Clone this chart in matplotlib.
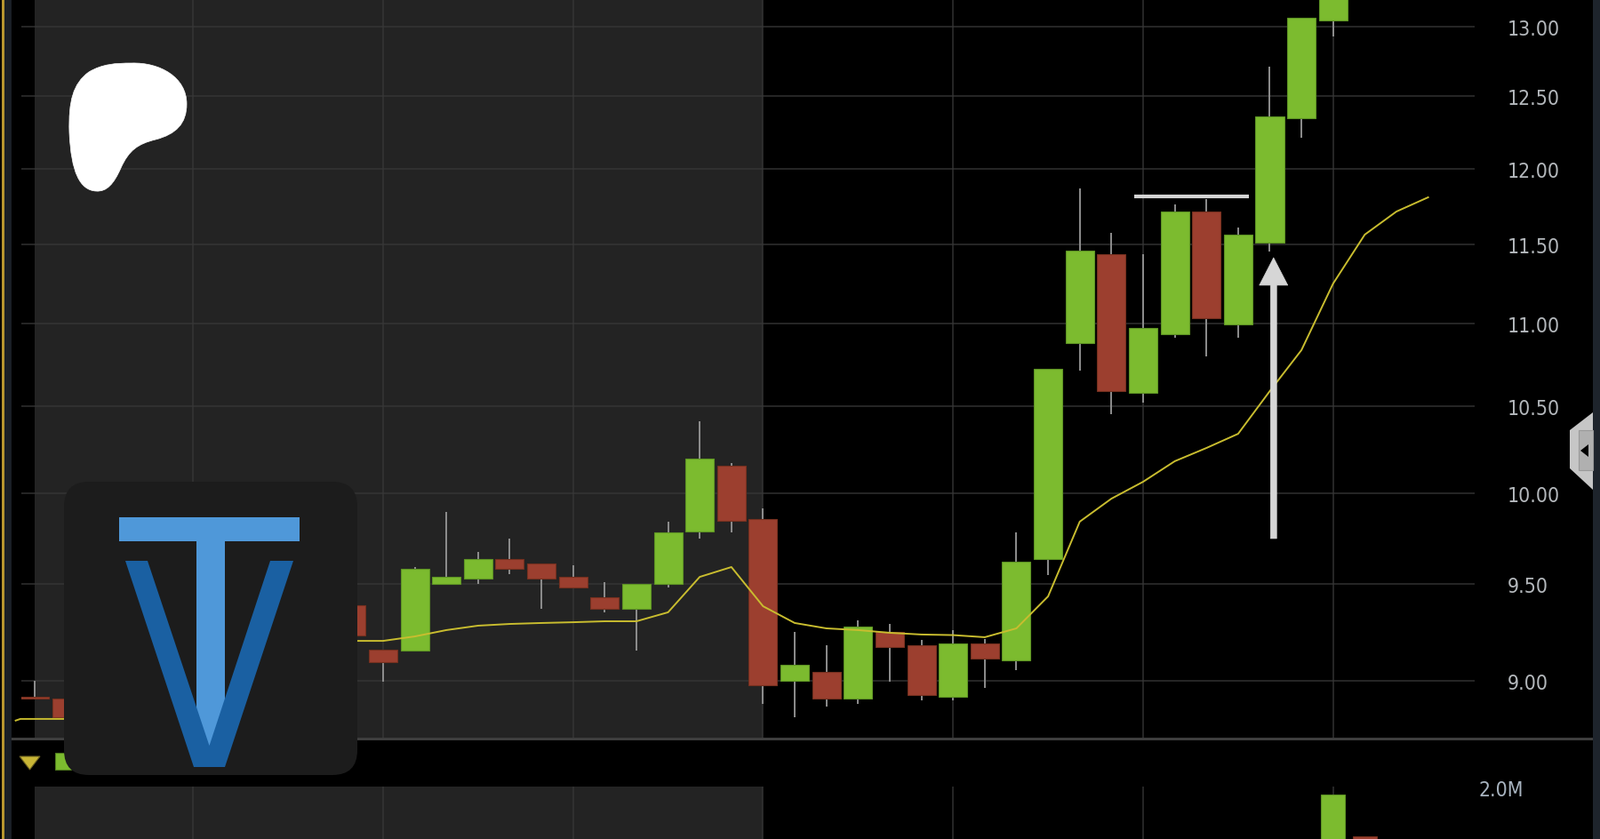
import numpy as np
import matplotlib.pyplot as plt
from matplotlib.patches import Rectangle, Polygon, FancyBboxPatch, PathPatch, FancyArrowPatch
from matplotlib.path import Path
from matplotlib.ticker import NullLocator

# candle index (bars hidden under the logo are left out)
idx = [0, 1, 10, 11, 12, 13, 14, 15, 16, 17, 18, 19, 20, 21, 22, 23, 24, 25, 26, 27,
       28, 29, 30, 31, 32, 33, 34, 35, 36, 37, 38, 39, 40, 41]
opens = [8.917, 8.908, 9.388, 9.157, 9.152, 9.501, 9.530, 9.635, 9.611, 9.539, 9.430,
         9.369, 9.501, 9.786, 10.154, 9.854, 8.998, 9.043, 8.908, 9.248, 9.179, 8.917,
         9.189, 9.102, 9.635, 10.879, 11.436, 10.579, 10.933, 11.714, 10.994, 11.511,
         12.345, 13.042]
closes = [8.908, 8.815, 9.230, 9.093, 9.582, 9.539, 9.635, 9.582, 9.530, 9.482, 9.369,
          9.501, 9.781, 10.195, 9.844, 8.975, 9.079, 8.908, 9.276, 9.170, 8.926, 9.189,
          9.111, 9.621, 10.723, 11.459, 10.589, 10.972, 11.714, 11.032, 11.563, 12.357,
          13.062, 13.350]
highs = [8.998, 8.908, 9.388, 9.157, 9.592, 9.894, 9.674, 9.747, 9.611, 9.602, 9.511,
         9.501, 9.840, 10.411, 10.169, 9.914, 9.248, 9.179, 9.309, 9.290, 9.207, 9.258,
         9.212, 9.781, 10.723, 11.867, 11.574, 11.436, 11.761, 11.796, 11.609, 12.708,
         13.062, 13.350]
lows = [8.908, 8.815, 9.230, 8.993, 9.152, 9.501, 9.501, 9.554, 9.369, 9.482, 9.351,
        9.152, 9.482, 9.747, 9.781, 8.882, 8.815, 8.868, 8.882, 8.993, 8.899, 8.899,
        8.962, 9.052, 9.549, 10.712, 10.453, 10.521, 10.912, 10.798, 10.912, 11.454,
        12.210, 12.926]

# moving average line
ma_x = [-0.6, -0.45, 0, 1, 10, 11, 12, 13, 14, 15, 16, 17, 18, 19, 20, 21, 22, 23, 24,
        25, 26, 27, 28, 29, 30, 31, 32, 33, 34, 35, 36, 37, 38, 39, 40, 41, 42, 43, 44]
ma_y = [8.799, 8.807, 8.807, 8.807, 9.202, 9.202, 9.225, 9.258, 9.281, 9.290, 9.295,
        9.299, 9.304, 9.304, 9.351, 9.539, 9.592, 9.383, 9.295, 9.267, 9.258, 9.244,
        9.235, 9.232, 9.221, 9.267, 9.435, 9.840, 9.968, 10.063, 10.180, 10.256, 10.338,
        10.589, 10.836, 11.249, 11.563, 11.714, 11.808]

# volume (only the top of the last two bars shows)
vol_idx = [41, 42]
vol_vals = [1.92e6, 1.43e6]
vol_dir = ['up', 'down']

price_ticks = [9.0, 9.5, 10.0, 10.5, 11.0, 11.5, 12.0, 12.5, 13.0]
price_labels = ['9.00', '9.50', '10.00', '10.50', '11.00', '11.50', '12.00', '12.50', '13.00']
grid_x = [5, 11, 17, 23, 29, 35, 41]
session = (0, 23)
resist = (34.72, 38.34, 11.814)
arrow = (39.12, 9.747, 11.414)

UP, UP_E = '#7cbb2f', '#5e9424'
DN, DN_E = '#9c3f2f', '#76301f'
SHADE = '#232323'
GRID = '#383838'
TXT = '#b4b8bc'

W, H = 1800, 945
fig = plt.figure(figsize=(W / 100, H / 100), dpi=100, facecolor='black')


def frect(x0, y0, x1, y1):
    return [x0 / W, 1 - y1 / H, (x1 - x0) / W, (y1 - y0) / H]


ax = fig.add_axes(frect(24, 0, 1659, 830.5))
axv = fig.add_axes(frect(24, 886, 1659, 945), sharex=ax)

for a in (ax, axv):
    a.set_facecolor('black')
    for s in a.spines.values():
        s.set_visible(False)
    a.axvspan(*session, color=SHADE, lw=0, zorder=0.5)
    for gx in grid_x:
        a.axvline(gx, color=GRID, alpha=0.8, lw=1.2, zorder=1)
    a.tick_params(axis='x', bottom=False, labelbottom=False)

ax.set_xlim(-0.421, 45.47)
ax.set_yscale('log')
ax.set_ylim(8.7168, 13.1998)
for t in price_ticks:
    ax.axhline(t, color=GRID, alpha=0.8, lw=1.2, zorder=1)
ax.set_yticks(price_ticks, labels=price_labels)
ax.yaxis.set_minor_locator(NullLocator())
ax.yaxis.tick_right()
ax.tick_params(axis='y', length=0, pad=26.6, labelsize=16.5, labelcolor=TXT)

# candles
o = np.array(opens)
c = np.array(closes)
up = c >= o
ax.vlines(idx, lows, highs, color='#8e8e8e', lw=1.4, zorder=2)
ax.bar(idx, np.abs(c - o), bottom=np.minimum(o, c), width=0.9,
       color=np.where(up, UP, DN), edgecolor=np.where(up, UP_E, DN_E), lw=0.8, zorder=3)

ax.plot(ma_x, ma_y, color='#c9bd2f', lw=1.4, zorder=4, clip_on=False)

ax.plot(resist[:2], [resist[2]] * 2, color='#d4d4d4', lw=3, solid_capstyle='butt', zorder=5)
ax.add_patch(FancyArrowPatch((arrow[0], arrow[1]), (arrow[0], arrow[2]),
                             arrowstyle='simple,head_length=2.23,head_width=2.3,tail_width=0.5',
                             mutation_scale=10, fc='#d6d6d6', ec='#d6d6d6', lw=0.5,
                             shrinkA=0, shrinkB=0, zorder=5))

# volume
axv.set_ylim(1.40e6, 2.0156e6)
axv.bar(vol_idx, vol_vals, width=0.76,
        color=[UP if d == 'up' else DN for d in vol_dir],
        edgecolor=[UP_E if d == 'up' else DN_E for d in vol_dir], lw=0.8, zorder=3)
axv.set_yticks([2.0e6], labels=['2.0M'])
axv.yaxis.tick_right()
axv.tick_params(axis='y', length=0, pad=2.9, labelsize=16.5, labelcolor='#a8b4c0')

for a in (ax, axv):
    for lbl in a.get_yticklabels():
        lbl.set_fontstretch('condensed')

# overlay in pixel coordinates: frame bits and logos
ov = fig.add_axes([0, 0, 1, 1], zorder=10)
ov.set_xlim(0, W)
ov.set_ylim(H, 0)
ov.axis('off')
ov.patch.set_alpha(0)

ov.add_patch(Rectangle((2, 0), 3, H, color='#b8962e', lw=0))
ov.add_patch(Rectangle((5, 0), 8, H, color='#1a1f26', lw=0))
ov.add_patch(Rectangle((1792, 0), 8, H, color='#1e242c', lw=0))
ov.add_patch(Rectangle((13, 831), 1779, 3, color='#3e3e3e', lw=0))

# side tab
ov.add_patch(Polygon([(1792, 465), (1766, 485), (1766, 528), (1792, 552)], closed=True,
                     fc='#c6c6c6', ec='none'))
ov.add_patch(Rectangle((1776, 485), 16, 45, fc='#b0b0b0', ec='#9a9a9a', lw=0.8))
ov.add_patch(Polygon([(1778, 508), (1787, 501), (1787, 515)], closed=True, fc='black'))

# legend markers in the gap
ov.add_patch(Polygon([(22, 852), (45, 852), (33.5, 867)], closed=True, fc='#c9b636', ec='#6b6020', lw=0.8))
ov.add_patch(Rectangle((62, 848), 18, 19, fc=UP, ec='#4e7a1c', lw=0.8))

# blob logo
verts = [(148, 72),
         (180, 71), (210, 88), (210, 118),
         (210, 140), (198, 152), (175, 158),
         (155, 163), (145, 170), (136, 190),
         (128, 208), (120, 217), (108, 216),
         (90, 215), (80, 195), (78, 150),
         (77, 115), (82, 95), (100, 82),
         (115, 73), (130, 72), (148, 72)]
codes = [Path.MOVETO] + [Path.CURVE4] * 21
ov.add_patch(PathPatch(Path(verts, codes), fc='white', ec='white', lw=0.5))

# TV logo
ov.add_patch(FancyBboxPatch((72, 543), 330, 330, boxstyle='round,pad=0,rounding_size=28',
                            fc='#1c1c1c', ec='none'))
ov.add_patch(Rectangle((134, 583), 203, 27, fc='#4f98d9', lw=0))
ov.add_patch(Rectangle((221, 610), 32, 230, fc='#4f98d9', lw=0))
ov.add_patch(Polygon([(141, 632), (166, 632), (235.5, 840), (304, 632), (330, 632),
                      (253, 864), (218, 864)], closed=True, fc='#1a60a2', ec='none'))

fig.savefig('out.png', dpi=100, facecolor='black')
